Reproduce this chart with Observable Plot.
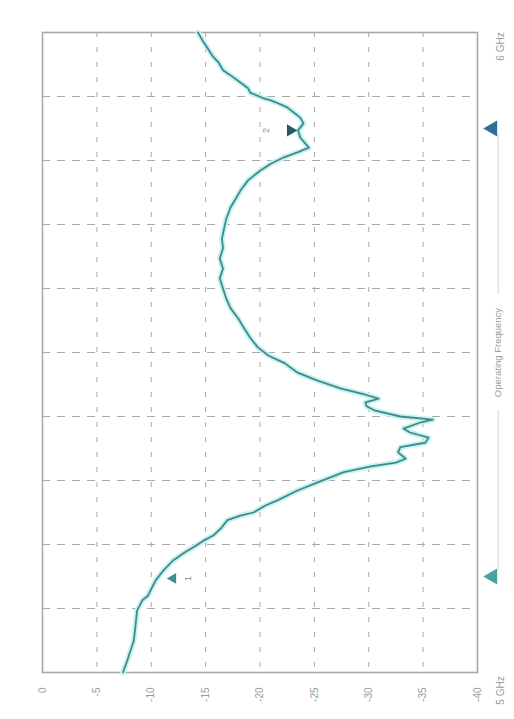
<!DOCTYPE html>
<html>
<head>
<meta charset="utf-8">
<script src="https://cdn.jsdelivr.net/npm/d3@7"></script>
<script src="https://cdn.jsdelivr.net/npm/@observablehq/plot@0.6"></script>
<style>
  html, body { margin: 0; padding: 0; background: #ffffff; }
  #chart svg { display: block; font-family: "Liberation Sans", Arial, sans-serif; }
</style>
</head>
<body>
<div id="chart"></div>
<script>
// Frequency (GHz) of each traced point, 5 GHz to 6 GHz
const freqGHz = [
  5.000, 5.019, 5.050, 5.081, 5.097, 5.113, 5.120, 5.144, 5.159, 5.175,
  5.188, 5.198, 5.206, 5.214, 5.225, 5.238, 5.245, 5.250, 5.261, 5.269,
  5.284, 5.297, 5.313, 5.322, 5.328, 5.334, 5.344, 5.352, 5.359, 5.367,
  5.375, 5.381, 5.391, 5.395, 5.400, 5.409, 5.416, 5.422, 5.428, 5.434,
  5.444, 5.456, 5.469, 5.483, 5.495, 5.508, 5.523, 5.539, 5.553, 5.569,
  5.584, 5.600, 5.616, 5.631, 5.647, 5.663, 5.678, 5.694, 5.709, 5.727,
  5.741, 5.753, 5.769, 5.784, 5.795, 5.805, 5.813, 5.820, 5.828, 5.836,
  5.847, 5.858, 5.867, 5.875, 5.883, 5.889, 5.894, 5.898, 5.906, 5.913,
  5.922, 5.933, 5.941, 5.953, 5.964, 5.975, 5.988, 6.000
];
// Return loss (dB) at each frequency
const levelDb = [
  -7.4, -7.8, -8.4, -8.6, -8.7, -9.2, -9.7, -10.4, -11.1, -12.0,
  -13.1, -14.1, -14.8, -15.7, -16.4, -17.0, -18.2, -19.4, -20.5, -21.6,
  -23.4, -25.3, -27.7, -30.2, -32.5, -33.4, -32.7, -32.9, -35.2, -35.5,
  -33.8, -33.2, -34.8, -35.9, -32.9, -30.6, -29.8, -29.7, -30.9, -29.7,
  -27.4, -25.3, -23.4, -22.3, -20.8, -19.8, -19.1, -18.5, -18.0, -17.3,
  -16.9, -16.6, -16.3, -16.6, -16.3, -16.6, -16.5, -16.7, -16.9, -17.3,
  -17.8, -18.2, -18.9, -20.0, -21.0, -22.2, -23.5, -24.5, -24.1, -23.7,
  -23.5, -24.0, -23.7, -23.1, -22.5, -21.7, -21.0, -20.2, -19.1, -18.9,
  -18.2, -17.3, -16.6, -16.2, -15.6, -15.2, -14.7, -14.3
];
// Axis ticks and grid
const dbTicks = [0, -5, -10, -15, -20, -25, -30, -35, -40];
const dbGrid = [-5, -10, -15, -20, -25, -30, -35];
const freqGrid = [5.1, 5.2, 5.3, 5.4, 5.5, 5.6, 5.7, 5.8, 5.9];
// Band edge markers (GHz) and marker readouts
const bandEdges = [5.15, 5.85];
const markerNames = ["1", "2"];
const markerFreq = [5.147, 5.847];
const markerDb = [-12.0, -22.8];
const markerLabelDb = [-13.4, -20.6];
// Annotation texts
const freqStartLabel = "5 GHz";
const freqEndLabel = "6 GHz";
const freqAxisLabel = "Operating Frequency";

const trace = freqGHz.map((f, i) => ({f, db: levelDb[i]}));
const markers = markerNames.map((name, i) => ({name, f: markerFreq[i], db: markerDb[i], ldb: markerLabelDb[i]}));

const gray = "#9a9a9a";

const chart = Plot.plot({
  width: 514,
  height: 719,
  marginLeft: 42,
  marginRight: 37,
  marginTop: 32,
  marginBottom: 47,
  style: {background: "#ffffff", fontFamily: "'Liberation Sans', Arial, sans-serif"},
  x: {domain: [0, -40], axis: null},
  y: {domain: [5, 6], axis: null},
  marks: [
    Plot.ruleX(dbGrid, {stroke: "#a9a9a9", strokeWidth: 1, strokeDasharray: "5,10"}),
    Plot.ruleY(freqGrid, {stroke: "#a9a9a9", strokeWidth: 1, strokeDasharray: "8,7"}),
    Plot.frame({stroke: "#a8a8a8", strokeWidth: 1.6}),
    Plot.line(trace, {x: "db", y: "f", stroke: "#c6f2f2", strokeWidth: 5.5, curve: "linear"}),
    Plot.line(trace, {x: "db", y: "f", stroke: "#3f8b89", strokeWidth: 1.8, curve: "linear"}),
    Plot.dot(markers.slice(0, 1), {x: "db", y: "f", symbol: "triangle", rotate: -90, r: 4, fill: "#3f8f8d", stroke: null}),
    Plot.dot(markers.slice(1), {x: "db", y: "f", symbol: "triangle", rotate: 90, r: 4.5, fill: "#2a5966", stroke: null}),
    Plot.text(markers, {x: "ldb", y: "f", text: "name", rotate: -90, fill: "#8a8a8a", fontSize: 9}),
    Plot.text(dbTicks, {x: d => d, frameAnchor: "bottom", dy: 15, rotate: -90, textAnchor: "end", lineAnchor: "middle", text: d => String(d), fill: gray, fontSize: 10}),
    Plot.ruleX([0], {x: () => -41.9, y1: bandEdges[0] + 0.01, y2: 5.41, stroke: "#d4d4d4", strokeWidth: 1}),
    Plot.ruleX([0], {x: () => -41.9, y1: 5.59, y2: bandEdges[1] - 0.01, stroke: "#d4d4d4", strokeWidth: 1}),
    Plot.dot(bandEdges.slice(0, 1), {y: d => d, frameAnchor: "right", dx: 15, symbol: "triangle", rotate: -90, r: 6, fill: "#46a3a2", stroke: null}),
    Plot.dot(bandEdges.slice(1), {y: d => d, frameAnchor: "right", dx: 15, symbol: "triangle", rotate: -90, r: 6, fill: "#2f6f94", stroke: null}),
    Plot.text([freqAxisLabel], {frameAnchor: "right", dx: 20, rotate: -90, textAnchor: "middle", lineAnchor: "middle", text: d => d, fill: gray, fontSize: 9.5}),
    Plot.text([freqEndLabel], {frameAnchor: "top-right", dx: 23, dy: 14, rotate: -90, textAnchor: "middle", lineAnchor: "middle", text: d => d, fill: gray, fontSize: 10}),
    Plot.text([freqStartLabel], {frameAnchor: "bottom-right", dx: 23, dy: 18, rotate: -90, textAnchor: "middle", lineAnchor: "middle", text: d => d, fill: gray, fontSize: 10})
  ]
});
document.getElementById("chart").appendChild(chart);
</script>
</body>
</html>
